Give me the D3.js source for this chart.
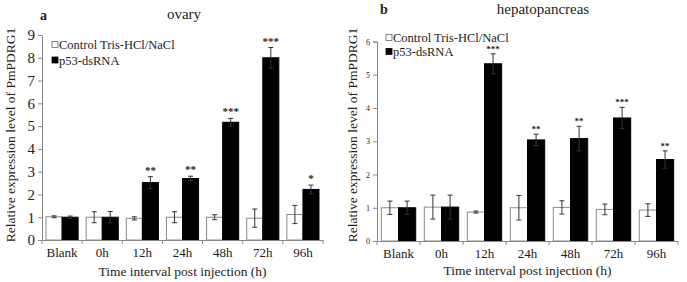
<!DOCTYPE html>
<html>
<head>
<meta charset="utf-8">
<script src="https://cdn.jsdelivr.net/npm/d3@7"></script>
<style>
  body { margin: 0; background: #fff; }
</style>
</head>
<body>
<div id="chart"></div>
<script>
// categories and series
const categories = ["Blank", "0h", "12h", "24h", "48h", "72h", "96h"];
const seriesNames = ["Control Tris-HCl/NaCl", "p53-dsRNA"];

// panel a - ovary
const ovaryControl = [1.02, 1.0, 0.95, 1.0, 1.0, 0.96, 1.12];
const ovaryControlErr = [0.04, 0.24, 0.07, 0.24, 0.11, 0.4, 0.4];
const ovaryP53 = [1.0, 1.0, 2.52, 2.7, 5.17, 8.0, 2.22];
const ovaryP53Err = [0.05, 0.25, 0.26, 0.1, 0.17, 0.45, 0.19];
const ovarySig = ["", "", "**", "**", "***", "***", "*"];
const ovaryTicks = [0, 1, 2, 3, 4, 5, 6, 7, 8, 9];

// panel b - hepatopancreas
const hepControl = [1.0, 1.02, 0.87, 1.0, 1.01, 0.95, 0.93];
const hepControlErr = [0.2, 0.36, 0.03, 0.37, 0.2, 0.16, 0.19];
const hepP53 = [1.0, 1.02, 5.33, 3.04, 3.08, 3.7, 2.45];
const hepP53Err = [0.2, 0.36, 0.3, 0.17, 0.37, 0.32, 0.26];
const hepSig = ["", "", "***", "**", "**", "***", "**"];
const hepTicks = [0, 1, 2, 3, 4, 5, 6];

const FONT = "'Liberation Serif', 'DejaVu Serif', serif"

const svg = d3.select("#chart").append("svg")
    .attr("width", 687)
    .attr("height", 282)

function panel(opt) {
    const g = svg.append("g")

    const x = d3.scaleBand()
        .domain(categories)
        .range([opt.left, opt.right])
        .padding(0)

    const xs = d3.scaleBand()
        .domain([0, 1])
        .range([0, x.bandwidth()])
        .paddingOuter(0.25)
        .paddingInner(0)

    const y = d3.scaleLinear()
        .domain([0, d3.max(opt.ticks)])
        .range([opt.bottom, opt.top])

    // build rows for bars
    const rows = []
    categories.forEach((c, i) => {
        rows.push({ cat: c, s: 0, v: opt.control[i], e: opt.controlErr[i], sig: "" })
        rows.push({ cat: c, s: 1, v: opt.p53[i], e: opt.p53Err[i], sig: opt.sig[i] })
    })

    g.selectAll("rect.bar")
        .data(rows)
        .enter().append("rect")
        .attr("class", "bar")
        .attr("x", d => x(d.cat) + xs(d.s))
        .attr("y", d => y(d.v))
        .attr("width", xs.bandwidth())
        .attr("height", d => y(0) - y(d.v))
        .attr("fill", d => d.s === 0 ? "#fff" : "#000")
        .attr("stroke", d => d.s === 0 ? "#8a8a8a" : "#000")
        .attr("stroke-width", 1)

    // error bars
    const cap = 2.5
    const eb = g.selectAll("g.err").data(rows).enter().append("g")
        .attr("class", "err")
        .attr("stroke", "#333")
        .attr("stroke-width", 1)
    const cx = d => x(d.cat) + xs(d.s) + xs.bandwidth() / 2
    eb.append("line")
        .attr("x1", cx).attr("x2", cx)
        .attr("y1", d => y(d.v - d.e)).attr("y2", d => y(d.v + d.e))
    eb.append("line")
        .attr("x1", d => cx(d) - cap).attr("x2", d => cx(d) + cap)
        .attr("y1", d => y(d.v + d.e)).attr("y2", d => y(d.v + d.e))
    eb.append("line")
        .attr("x1", d => cx(d) - cap).attr("x2", d => cx(d) + cap)
        .attr("y1", d => y(d.v - d.e)).attr("y2", d => y(d.v - d.e))

    // significance stars
    g.selectAll("text.sig")
        .data(rows.filter(d => d.sig))
        .enter().append("text")
        .attr("class", "sig")
        .attr("x", cx)
        .attr("y", d => y(d.v + d.e) + opt.starDy)
        .attr("text-anchor", "middle")
        .style("font-size", opt.starSize + "px")
        .style("font-weight", "bold")
        .text(d => d.sig)

    // y axis
    const yAxis = g.append("g")
        .attr("transform", "translate(" + opt.left + ",0)")
        .call(d3.axisLeft(y).tickValues(opt.ticks).tickSize(4).tickPadding(3).tickFormat(d3.format("d")))
    yAxis.selectAll("text").style("font-size", opt.yTickSize + "px")
    yAxis.selectAll("line, path").attr("stroke", "#888")

    // x axis: labels centered, ticks on category boundaries
    const xAxis = g.append("g")
        .attr("transform", "translate(0," + opt.bottom + ")")
        .call(d3.axisBottom(x).tickSize(0).tickPadding(opt.xPad))
    xAxis.select("path").attr("stroke", "#888")
    xAxis.selectAll("text").style("font-size", "13px")
    const bounds = categories.map(c => x(c)).concat([x.range()[1]])
    xAxis.selectAll("line.bt").data(bounds).enter().append("line")
        .attr("class", "bt")
        .attr("x1", d => d).attr("x2", d => d)
        .attr("y1", 0).attr("y2", 4)
        .attr("stroke", "#888")

    // axis titles
    g.append("text")
        .attr("x", (opt.left + opt.right) / 2)
        .attr("y", opt.xTitleY)
        .attr("text-anchor", "middle")
        .style("font-size", "13.5px")
        .text("Time interval post injection (h)")

    g.append("text")
        .attr("transform", "translate(" + opt.yTitleX + "," + opt.yTitleMid + ") rotate(-90)")
        .attr("text-anchor", "middle")
        .style("font-size", "13.5px")
        .text("Relative expression level of PmPDRG1")

    // panel letter and title
    g.append("text")
        .attr("x", opt.letterX).attr("y", opt.letterY)
        .style("font-size", "14px").style("font-weight", "bold")
        .text(opt.letter)
    g.append("text")
        .attr("x", opt.titleX).attr("y", opt.titleY)
        .attr("text-anchor", "middle")
        .style("font-size", "15px")
        .text(opt.title)

    // legend
    const lg = g.append("g").attr("transform", "translate(" + opt.legX + "," + opt.legY + ")")
    seriesNames.forEach((s, i) => {
        lg.append("rect")
            .attr("x", 0).attr("y", i * opt.legStep - 3.5)
            .attr("width", 6).attr("height", 6)
            .attr("fill", i === 0 ? "#fff" : "#000")
            .attr("stroke", i === 0 ? "#666" : "#000")
            .attr("stroke-width", 0.8)
        lg.append("text")
            .attr("x", 7).attr("y", i * opt.legStep + 4)
            .style("font-size", "12.5px")
            .text(s)
    })
}

panel({
    left: 42, right: 323, top: 35, bottom: 240,
    control: ovaryControl, controlErr: ovaryControlErr,
    p53: ovaryP53, p53Err: ovaryP53Err, sig: ovarySig, ticks: ovaryTicks,
    starDy: -3, starSize: 11, yTickSize: 15, xPad: 8,
    xTitleY: 276, yTitleX: 15, yTitleMid: 135,
    letter: "a", letterX: 40, letterY: 20,
    title: "ovary", titleX: 184, titleY: 19,
    legX: 52, legY: 45, legStep: 15.5
})

panel({
    left: 377, right: 678, top: 41.5, bottom: 241,
    control: hepControl, controlErr: hepControlErr,
    p53: hepP53, p53Err: hepP53Err, sig: hepSig, ticks: hepTicks,
    starDy: -2, starSize: 9, yTickSize: 8, xPad: 8,
    xTitleY: 275, yTitleX: 357, yTitleMid: 135,
    letter: "b", letterX: 380, letterY: 14,
    title: "hepatopancreas", titleX: 543, titleY: 14,
    legX: 386, legY: 38, legStep: 14
})

// serif everywhere, incl. the axis groups d3 tags with sans-serif
svg.selectAll("text").style("font-family", FONT).style("fill", "#222")
svg.selectAll("g").attr("font-family", null)
</script>
</body>
</html>
